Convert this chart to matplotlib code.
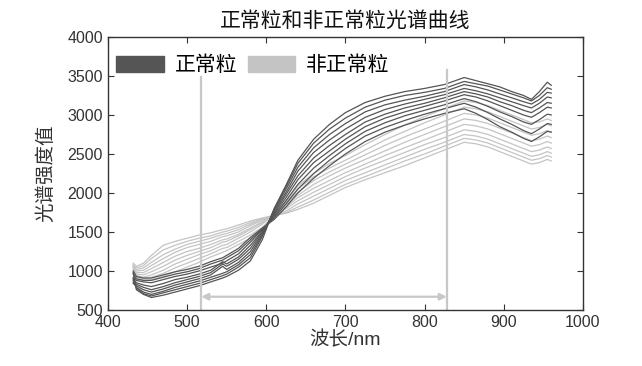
import matplotlib
matplotlib.use("Agg")
import matplotlib.pyplot as plt
from matplotlib.patches import Patch

plt.rcParams['font.family'] = ['Liberation Sans', 'Noto Sans CJK SC', 'DejaVu Sans']

# wavelength grid (nm)
wavelength = [432, 436, 445, 455, 470, 485, 500, 515, 530, 545, 550, 565, 580, 595, 610,
              625, 640, 660, 680, 700, 725, 750, 775, 800, 825, 850, 865, 880, 895,
              910, 925, 935, 945, 955, 960]

# 正常粒 spectra
normal_spectra = [
    [980, 760, 700, 660, 690, 730, 770, 810, 860, 910, 930, 1010, 1130, 1400, 1800,
     2100, 2420, 2690, 2880, 3030, 3160, 3240, 3300, 3340, 3390, 3480, 3440, 3400, 3360,
     3300, 3250, 3200, 3300, 3420, 3380],
    [900, 780, 710, 680, 720, 760, 800, 840, 890, 940, 960, 1050, 1170, 1440, 1790,
     2080, 2380, 2640, 2820, 2960, 3100, 3190, 3250, 3290, 3340, 3430, 3400, 3370, 3320,
     3270, 3220, 3180, 3250, 3350, 3330],
    [860, 790, 730, 700, 740, 790, 830, 870, 920, 970, 990, 1080, 1210, 1460, 1780,
     2050, 2330, 2580, 2750, 2890, 3040, 3130, 3190, 3240, 3300, 3390, 3360, 3320, 3270,
     3220, 3170, 3140, 3200, 3290, 3280],
    [840, 810, 760, 730, 770, 820, 860, 900, 950, 1060, 1020, 1110, 1250, 1480, 1760,
     2010, 2280, 2520, 2680, 2820, 2970, 3070, 3140, 3200, 3260, 3340, 3310, 3270, 3220,
     3170, 3120, 3090, 3150, 3230, 3220],
    [880, 830, 790, 760, 800, 850, 890, 930, 980, 1090, 1060, 1150, 1290, 1500, 1740,
     1980, 2220, 2450, 2610, 2750, 2910, 3010, 3090, 3150, 3220, 3300, 3270, 3230, 3170,
     3120, 3060, 3030, 3090, 3160, 3150],
    [900, 850, 820, 800, 840, 890, 920, 960, 1010, 1120, 1090, 1180, 1330, 1510, 1720,
     1940, 2170, 2390, 2540, 2690, 2850, 2960, 3040, 3110, 3180, 3260, 3230, 3180, 3120,
     3060, 3000, 2970, 3030, 3100, 3090],
    [920, 880, 860, 850, 890, 930, 960, 1000, 1050, 1100, 1130, 1220, 1370, 1530, 1700,
     1900, 2110, 2320, 2480, 2630, 2790, 2900, 2990, 3060, 3130, 3210, 3170, 3110, 3040,
     2980, 2910, 2880, 2940, 3010, 3000],
    [960, 900, 880, 880, 920, 960, 990, 1030, 1090, 1140, 1170, 1260, 1400, 1540, 1680,
     1860, 2050, 2250, 2420, 2570, 2730, 2840, 2930, 3010, 3080, 3150, 3100, 3030, 2950,
     2880, 2800, 2760, 2820, 2890, 2880],
    [1000, 930, 910, 910, 950, 990, 1020, 1060, 1120, 1170, 1200, 1290, 1430, 1550, 1660,
     1820, 2000, 2190, 2350, 2500, 2660, 2780, 2870, 2950, 3020, 3080, 3020, 2940, 2850,
     2780, 2700, 2660, 2720, 2790, 2780],
]

# 非正常粒 spectra
abnormal_spectra = [
    [1050, 900, 880, 890, 930, 990, 1050, 1110, 1180, 1240, 1260, 1340, 1420, 1520, 1690,
     1900, 2090, 2250, 2380, 2480, 2620, 2750, 2870, 2980, 3080, 3180, 3160, 3120, 3060,
     3000, 2940, 2900, 2910, 2950, 2930],
    [980, 920, 900, 920, 970, 1040, 1100, 1160, 1220, 1290, 1300, 1380, 1460, 1560, 1710,
     1880, 2050, 2210, 2320, 2420, 2550, 2680, 2790, 2900, 3000, 3100, 3080, 3040, 2980,
     2920, 2860, 2820, 2840, 2880, 2860],
    [1000, 940, 920, 950, 1010, 1090, 1150, 1210, 1260, 1330, 1340, 1420, 1500, 1600, 1730,
     1870, 2010, 2160, 2270, 2370, 2490, 2610, 2720, 2820, 2920, 3020, 3000, 2960, 2900,
     2840, 2780, 2740, 2760, 2800, 2780],
    [1060, 960, 950, 990, 1060, 1140, 1200, 1250, 1300, 1370, 1380, 1450, 1530, 1620, 1730,
     1850, 1970, 2110, 2220, 2320, 2430, 2540, 2650, 2750, 2850, 2950, 2930, 2890, 2830,
     2770, 2710, 2670, 2690, 2730, 2710],
    [1020, 980, 980, 1030, 1110, 1190, 1250, 1290, 1340, 1400, 1410, 1470, 1550, 1630, 1720,
     1820, 1940, 2060, 2160, 2260, 2370, 2480, 2580, 2680, 2780, 2880, 2860, 2820, 2760,
     2700, 2640, 2600, 2620, 2660, 2640],
    [1080, 1000, 1010, 1070, 1160, 1240, 1300, 1340, 1380, 1440, 1450, 1500, 1580, 1650, 1720,
     1800, 1900, 2010, 2110, 2210, 2320, 2420, 2520, 2620, 2710, 2810, 2790, 2750, 2690,
     2630, 2570, 2530, 2550, 2590, 2570],
    [1040, 1020, 1040, 1110, 1210, 1280, 1340, 1380, 1420, 1470, 1480, 1530, 1600, 1660, 1710,
     1770, 1860, 1960, 2060, 2160, 2260, 2360, 2460, 2560, 2650, 2750, 2730, 2690, 2630,
     2570, 2510, 2470, 2490, 2530, 2510],
    [1070, 1040, 1070, 1160, 1270, 1330, 1380, 1420, 1450, 1500, 1510, 1560, 1620, 1670, 1710,
     1750, 1820, 1910, 2010, 2110, 2210, 2310, 2410, 2500, 2600, 2700, 2680, 2640, 2580,
     2520, 2460, 2420, 2440, 2480, 2460],
    [1100, 1060, 1100, 1200, 1330, 1380, 1420, 1460, 1490, 1530, 1540, 1590, 1640, 1680, 1710,
     1740, 1790, 1870, 1970, 2070, 2170, 2260, 2350, 2450, 2550, 2650, 2630, 2590, 2530,
     2470, 2410, 2370, 2390, 2430, 2410],
]

band_start = 518
band_end = 828

fig = plt.figure(figsize=(6.42, 3.66), dpi=100)
ax = fig.add_axes([0.168, 0.153, 0.74, 0.746])

dark = '#555555'
light = '#c4c4c4'

for s in abnormal_spectra:
    ax.plot(wavelength, s, color=light, lw=0.9)
for s in normal_spectra:
    ax.plot(wavelength, s, color=dark, lw=0.9)

# 特征波段标注
ax.plot([band_start, band_start], [500, 3490], color='#c8c8c8', lw=1.6)
ax.plot([band_end, band_end], [500, 3580], color='#c8c8c8', lw=1.6)
ax.annotate('', xy=(band_start, 670), xytext=(band_end, 670),
            arrowprops=dict(arrowstyle='<|-|>', color='#c8c8c8', lw=1.6,
                            mutation_scale=10, shrinkA=0, shrinkB=0))

ax.set_xlim(400, 1000)
ax.set_ylim(500, 4000)
ax.set_xticks(range(400, 1001, 100))
ax.set_yticks(range(500, 4001, 500))
ax.tick_params(direction='in', top=True, right=True, length=4,
               labelsize=11.5, labelcolor='#333333', color='#333333')
for sp in ax.spines.values():
    sp.set_color('#333333')
    sp.set_linewidth(1.0)

ax.set_xlabel('波长/nm', fontsize=14, color='#333333', labelpad=1)
ax.set_ylabel('光谱强度值', fontsize=14, color='#333333', labelpad=9)
ax.set_title('正常粒和非正常粒光谱曲线', fontsize=15, color='#111111', pad=7)

handles = [Patch(facecolor=dark, edgecolor=dark), Patch(facecolor=light, edgecolor=light)]
ax.legend(handles, ['正常粒', '非正常粒'], loc='center left', ncol=2, frameon=False,
          fontsize=15, handlelength=2.3, handleheight=0.8, columnspacing=0.5,
          handletextpad=0.5, borderaxespad=0.0, bbox_to_anchor=(0.0, 0.897))

fig.savefig('out.png', dpi=100)
